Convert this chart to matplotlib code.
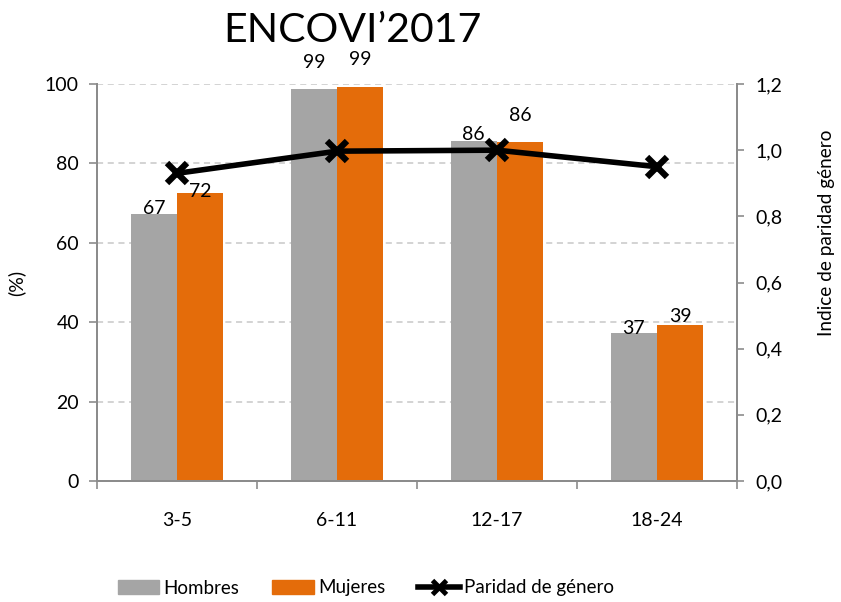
import matplotlib
matplotlib.use("Agg")
import matplotlib.pyplot as plt
import numpy as np
from matplotlib.lines import Line2D
from matplotlib.patches import Patch

plt.rcParams['font.family'] = ['Lato', 'DejaVu Sans']

categories = ["3-5", "6-11", "12-17", "18-24"]
hombres = [67.3, 98.7, 85.6, 37.3]
mujeres = [72.5, 99.2, 85.5, 39.4]
hombres_labels = ["67", "99", "86", "37"]
mujeres_labels = ["72", "99", "86", "39"]
paridad = [0.93, 0.997, 1.0, 0.95]
right_ticks = [0.0, 0.2, 0.4, 0.6, 0.8, 1.0, 1.2]
right_tick_labels = ["0,0", "0,2", "0,4", "0,6", "0,8", "1,0", "1,2"]
# label vertical offsets in points (label placement above bars)
h_offsets = [-2, 13, -1, -3]
m_offsets = [-5, 14, 13, 0]

GREY = "#a5a5a5"
ORANGE = "#e46c0a"
AXC = "#8c8c8c"
FS = 14

fig = plt.figure(figsize=(8.41, 6.02), dpi=100)
ax = fig.add_axes([97/841, 1-481/602, 640/841, 397/602])
ax2 = ax.twinx()

x = np.arange(len(categories))
w = 0.29
ax.bar(x - w/2, hombres, width=w, color=GREY, zorder=2)
ax.bar(x + w/2, mujeres, width=w, color=ORANGE, zorder=2)

for i in range(len(categories)):
    ax.annotate(hombres_labels[i], (x[i] - w/2, hombres[i]), xytext=(0, h_offsets[i]),
                textcoords="offset points", ha="center", va="bottom", fontsize=FS,
                color="black", zorder=5, annotation_clip=False)
    ax.annotate(mujeres_labels[i], (x[i] + w/2, mujeres[i]), xytext=(0, m_offsets[i]),
                textcoords="offset points", ha="center", va="bottom", fontsize=FS,
                color="black", zorder=5, annotation_clip=False)

ax.set_xlim(-0.5, len(categories) - 0.5)
ax.set_ylim(0, 100)
ax.set_yticks([0, 20, 40, 60, 80, 100])
ax.yaxis.grid(True, linestyle=(0, (4, 3)), color="#c8c8c8", linewidth=1.1, zorder=0)
ax.set_axisbelow(True)
ax.set_xticks(x)
ax.set_xticklabels(categories, fontsize=FS)
ax.set_xticks(np.arange(-0.5, len(categories)), minor=True)
ax.tick_params(axis="x", which="major", length=0, pad=22)
ax.tick_params(axis="x", which="minor", length=6, color=AXC, width=1.2)
ax.tick_params(axis="y", labelsize=FS, length=6, color=AXC, width=1.2, pad=7)
ax.set_ylabel("(%)", fontsize=FS)
ax.yaxis.set_label_coords(-0.112, 0.5)

ax2.plot(x, paridad, color="black", linewidth=4, marker="x", markersize=14,
         markeredgewidth=4.5, zorder=4, clip_on=False)
ax2.set_ylim(0, 1.2)
ax2.set_yticks(right_ticks)
ax2.set_yticklabels(right_tick_labels)
ax2.tick_params(axis="y", labelsize=FS, length=5, color=AXC, width=1.2, pad=8)
ax2.set_ylabel("Indice de paridad género", fontsize=13.7)
ax2.yaxis.set_label_coords(1.126, 0.625)

for a in (ax, ax2):
    a.spines["top"].set_visible(False)
    for s in ("left", "right", "bottom"):
        a.spines[s].set_color(AXC)
        a.spines[s].set_linewidth(1.4)

fig.text(352/841, 1 - 31/602, "ENCOVI’2017", fontsize=29.5, ha="center", va="center")

handles = [Patch(color=GREY, label="Hombres"),
           Patch(color=ORANGE, label="Mujeres"),
           Line2D([0], [0], color="black", linewidth=4, marker="x", markersize=10,
                  markeredgewidth=3.5, label="Paridad de género")]
fig.legend(handles=handles, loc="center", bbox_to_anchor=(366/841, 1 - 588/602),
           ncol=3, frameon=False, fontsize=13.5, handlelength=2.2, handleheight=0.75,
           handletextpad=0.25, columnspacing=1.75)

fig.savefig("out.png", dpi=100)
